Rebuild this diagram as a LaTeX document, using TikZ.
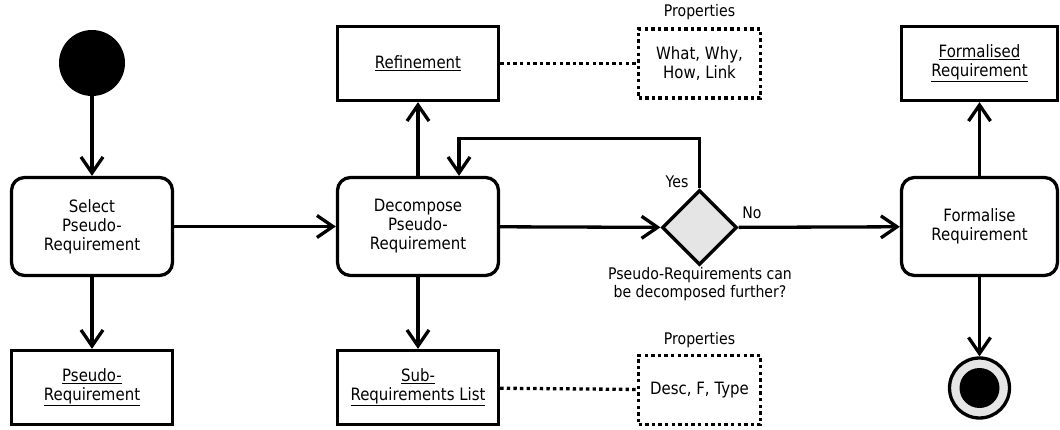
\documentclass[tikz,border=0pt]{standalone}
\usepackage{fontspec}
\setmainfont{DejaVu Sans}[FakeStretch=0.88]
\usetikzlibrary{arrows.meta,shapes.geometric}
\begin{document}
\begin{tikzpicture}[x=1pt,y=-1pt,
  every node/.style={font=\fontsize{17}{19}\selectfont, align=center, inner sep=0pt},
  small/.style={font=\fontsize{16}{18}\selectfont},
  lw/.style={line width=3.3pt},
  action/.style={draw, lw, rounded corners=13pt, minimum width=161pt, minimum height=98pt},
  obj/.style={draw, lw, minimum width=161pt, minimum height=74pt},
  note/.style={draw, lw, dash pattern=on 3.4pt off 3.2pt, minimum width=122pt, minimum height=69pt},
  arr/.style={lw, -{Straight Barb[length=16pt,width=22pt]}},
  dotline/.style={lw, dash pattern=on 3.4pt off 3.2pt},
]
\useasboundingbox (0,0) rectangle (1060,430);

% nodes
\node[circle, fill=black, minimum size=66pt] (start) at (92,63) {};
\node[action] (select) at (92,226.5) {Select\\Pseudo-\\Requirement};
\node[obj] (pseudo) at (92,387.5) {\underline{Pseudo-}\\\underline{Requirement}};

\node[action] (dec) at (418,226.5) {Decompose\\Pseudo-\\Requirement};
\node[obj] (ref) at (418,63.5) {\underline{Refinement}};
\node[obj] (sub) at (418,387.5) {\underline{Sub-}\\\underline{Requirements List}};

\node[note] (p1) at (699.5,63.5) {What, Why,\\How, Link};
\node[small] (p1lab) at (699.5,12) {Properties};
\node[note] (p2) at (699.5,390) {Desc, F, Type};
\node[small] (p2lab) at (699.5,340) {Properties};

\node[diamond, draw, lw, fill=gray!20, minimum width=75pt, minimum height=75pt] (dia) at (699.5,227.5) {};
\node[small] (yes) at (677,182) {Yes};
\node[small] (no) at (752,213) {No};
\node[small] (q) at (700,284) {Pseudo-Requirements can\\be decomposed further?};

\node[action, minimum width=156pt] (form) at (979.5,226.5) {Formalise\\Requirement};
\node[obj, minimum width=156pt] (formd) at (979.5,63.5) {\underline{Formalised}\\\underline{Requirement}};

\node[circle, draw, lw, fill=gray!20, minimum size=60pt] (end) at (979.5,388) {};
\node[circle, fill=black, minimum size=40pt] (endin) at (end) {};

% connectors
\draw[arr] (start) -- (select);
\draw[arr] (select) -- (pseudo);
\draw[arr] (select) -- (dec);
\draw[arr] (dec) -- (ref);
\draw[arr] (dec) -- (sub);
\draw[arr] (dec) -- (dia);
\draw[arr] (dia.north) -- ++(0,-50) -| ([xshift=41pt]dec.north);
\draw[arr] (dia) -- (form);
\draw[arr] (form) -- (formd);
\draw[arr] (form) -- (end);
\draw[dotline] (ref) -- (p1);
\draw[dotline] (sub) -- (p2);
\end{tikzpicture}
\end{document}
